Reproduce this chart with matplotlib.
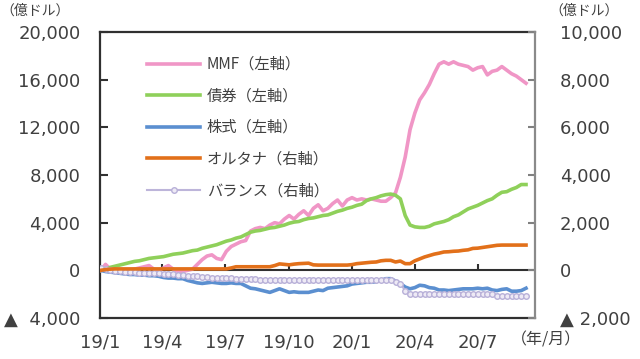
import matplotlib
matplotlib.use('Agg')
import matplotlib.pyplot as plt
import pandas as pd

# ---------------- data (weekly, 億ドル) ----------------
mmf = [0, 500, 100, 0, -100, 0, 0, 100, 200, 300,
       400, 100, 0, 200, 400, 100, -100, -100, 0, 100,
       500, 900, 1200, 1300, 1000, 900, 1600, 2000, 2200, 2400,
       2500, 3300, 3500, 3600, 3500, 3800, 4000, 3900, 4300, 4600,
       4300, 4700, 5000, 4600, 5200, 5500, 5000, 5200, 5600, 5900,
       5400, 5900, 6100, 5900, 6000, 5900, 6000, 5900, 5800, 5800,
       6100, 6500, 7800, 9500, 11800, 13200, 14300, 14900, 15600, 16500,
       17300, 17500, 17300, 17500, 17300, 17200, 17100, 16800, 17000, 17100,
       16400, 16700, 16800, 17100, 16800, 16500, 16300, 16000, 15700]

bonds = [0, 100, 250, 350, 450, 550, 650, 750, 800, 900,
         1000, 1050, 1100, 1150, 1250, 1350, 1400, 1450, 1550, 1650,
         1700, 1850, 1950, 2050, 2150, 2300, 2450, 2550, 2700, 2800,
         3000, 3200, 3300, 3350, 3450, 3550, 3600, 3700, 3800, 3950,
         4050, 4100, 4250, 4350, 4400, 4500, 4600, 4650, 4800, 4950,
         5050, 5200, 5300, 5450, 5550, 5850, 6000, 6100, 6250, 6350,
         6400, 6300, 6000, 4600, 3800, 3650, 3600, 3600, 3700, 3900,
         4000, 4100, 4250, 4500, 4650, 4900, 5150, 5300, 5450, 5650,
         5850, 6000, 6300, 6550, 6600, 6800, 6950, 7200, 7200]

stocks = [0, -100, -150, -200, -250, -300, -350, -350, -400, -400,
          -450, -450, -500, -600, -650, -650, -700, -700, -850, -950,
          -1050, -1100, -1050, -1000, -1050, -1100, -1100, -1050, -1100, -1100,
          -1300, -1500, -1550, -1650, -1750, -1850, -1700, -1550, -1700, -1850,
          -1800, -1850, -1850, -1850, -1750, -1650, -1700, -1500, -1450, -1400,
          -1350, -1300, -1150, -1100, -1050, -1000, -1000, -950, -850, -700,
          -700, -900, -1100, -1400, -1550, -1450, -1250, -1300, -1450, -1500,
          -1650, -1650, -1700, -1650, -1600, -1550, -1550, -1550, -1500, -1550,
          -1500, -1650, -1700, -1600, -1550, -1750, -1750, -1700, -1500]

alts = [0, 30, 50, 60, 60, 60, 60, 60, 60, 60,
        60, 60, 60, 60, 60, 60, 60, 60, 60, 60,
        60, 60, 60, 60, 60, 60, 60, 100, 150, 150,
        150, 150, 150, 150, 150, 150, 200, 270, 250, 230,
        260, 280, 290, 300, 230, 220, 220, 220, 220, 220,
        220, 220, 240, 280, 300, 320, 340, 350, 400, 420,
        420, 350, 390, 280, 280, 400, 480, 560, 620, 680,
        720, 770, 780, 800, 810, 840, 860, 920, 930, 960,
        990, 1020, 1050, 1060, 1060, 1060, 1060, 1060, 1060]

balance = [100, 50, 0, -20, -40, -60, -80, -80, -100, -100,
           -100, -120, -130, -150, -150, -160, -180, -200, -220, -230,
           -250, -280, -300, -320, -330, -330, -340, -340, -350, -350,
           -360, -370, -380, -390, -400, -400, -400, -400, -400, -400,
           -400, -400, -400, -400, -400, -400, -400, -400, -400, -400,
           -400, -400, -400, -400, -400, -400, -400, -400, -400, -400,
           -420, -500, -560, -850, -980, -1000, -1000, -1000, -1000, -1000,
           -1000, -1000, -1000, -1000, -1000, -1000, -1000, -1000, -1000, -1000,
           -1000, -1000, -1080, -1080, -1080, -1080, -1080, -1080, -1080]

dates = pd.date_range('2019-01-02', periods=len(mmf), freq='7D')

xtick_dates = pd.to_datetime(['2019-01-01', '2019-04-01', '2019-07-01', '2019-10-01',
                              '2020-01-01', '2020-04-01', '2020-07-01'])
xtick_labels = ['19/1', '19/4', '19/7', '19/10', '20/1', '20/4', '20/7']

left_ticks = [-4000, 0, 4000, 8000, 12000, 16000, 20000]
left_labels = ['▲  4,000', '0', '4,000', '8,000', '12,000', '16,000', '20,000']
right_ticks = [-2000, 0, 2000, 4000, 6000, 8000, 10000]
right_labels = ['▲ 2,000', '0', '2,000', '4,000', '6,000', '8,000', '10,000']

labels = ['MMF（左軸）', '債券（左軸）', '株式（左軸）', 'オルタナ（右軸）', 'バランス（右軸）']

# ---------------- style ----------------
plt.rcParams['font.family'] = ['Noto Sans CJK JP', 'DejaVu Sans']
TXT = '#404040'
PINK = '#F096C6'
GREEN = '#8FD05A'
BLUE = '#5B8FD0'
ORANGE = '#E2701A'
LAV = '#BDB5DA'

fig = plt.figure(figsize=(6.4, 3.59), dpi=100)
ax = fig.add_axes([100/640, 1-318/359, 435/640, 286/359])
ax2 = ax.twinx()

ax.axhline(0, color='#303030', lw=1.5, zorder=1)
ax.vlines(xtick_dates[1:], 0, 550, color='#303030', lw=1.5, zorder=1)

l1, = ax.plot(dates, mmf, color=PINK, lw=2.6, zorder=3)
l2, = ax.plot(dates, bonds, color=GREEN, lw=2.6, zorder=3)
l3, = ax.plot(dates, stocks, color=BLUE, lw=2.6, zorder=3)
l4, = ax2.plot(dates, alts, color=ORANGE, lw=2.6, zorder=3)
l5, = ax2.plot(dates, balance, color=LAV, lw=1.5, marker='o', ms=4,
               mfc='#EEEAF5', mec='#B8B0D8', mew=1.0, zorder=2)

ax.set_xlim(pd.Timestamp('2019-01-01'), pd.Timestamp('2020-09-22'))
ax.set_ylim(-4000, 20000)
ax2.set_ylim(-2000, 10000)

ax.set_yticks(left_ticks)
ax.set_yticklabels(left_labels, family='DejaVu Sans', fontsize=13, color=TXT)
ax2.set_yticks(right_ticks)
ax2.set_yticklabels(right_labels, family='DejaVu Sans', fontsize=13, color=TXT)
ax.set_xticks(xtick_dates)
ax.set_xticklabels(xtick_labels, family='DejaVu Sans', fontsize=13, color=TXT)

ax.tick_params(axis='x', length=0, pad=11)
ax.tick_params(axis='y', direction='in', length=6, width=1.5, color='#303030', pad=14)
ax2.tick_params(axis='y', direction='in', length=5, width=1.5, color='#808080', pad=18)

for s in ['left', 'top', 'bottom']:
    ax.spines[s].set_color('#303030')
    ax.spines[s].set_linewidth(1.6)
    ax2.spines[s].set_visible(False)
ax.spines['right'].set_visible(False)
ax2.spines['right'].set_color('#8a8a8a')
ax2.spines['right'].set_linewidth(1.6)

ax2.legend([l1, l2, l3, l4, l5], labels, loc='upper left',
           bbox_to_anchor=(147/640, 1-56/359), bbox_transform=fig.transFigure,
           frameon=False, borderpad=0, borderaxespad=0, handlelength=3.5,
           handletextpad=0.42, labelspacing=0.95, prop={'size': 11},
           labelcolor=TXT, numpoints=1)

fig.text(35/640, 1-11/359, '（億ドル）', fontsize=10, color=TXT, ha='center', va='center')
fig.text(584/640, 1-11/359, '（億ドル）', fontsize=10, color=TXT, ha='center', va='center')
fig.text(546/640, 1-340/359, '（年/月）', fontsize=11.5, color=TXT, ha='center', va='center')

fig.savefig('out.png', dpi=100)
